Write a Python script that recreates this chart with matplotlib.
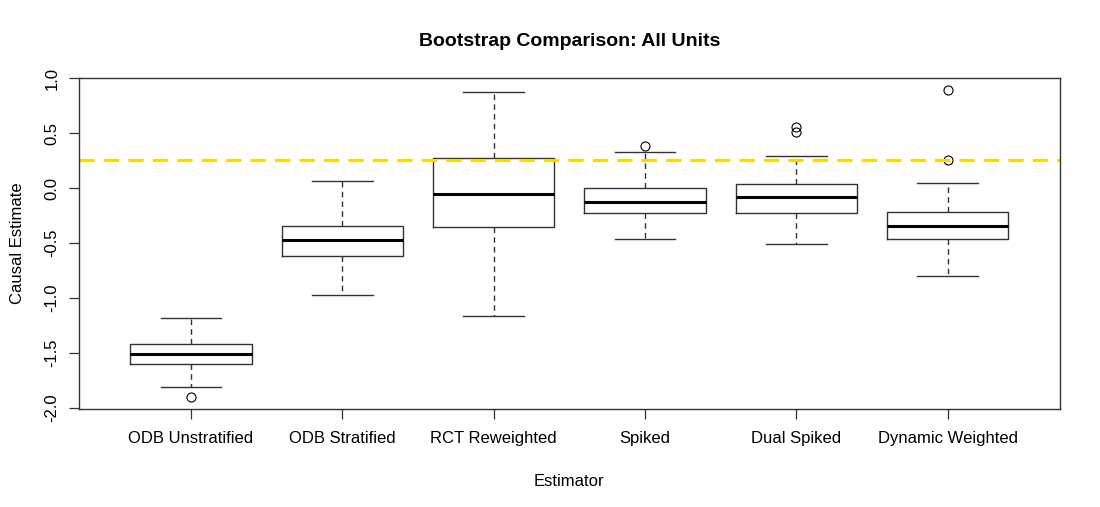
import matplotlib
matplotlib.use("Agg")
import matplotlib.pyplot as plt

plt.rcParams['font.family'] = ['Liberation Sans', 'DejaVu Sans']

# estimator names and box summaries
estimators = ["ODB Unstratified", "ODB Stratified", "RCT Reweighted",
              "Spiked", "Dual Spiked", "Dynamic Weighted"]
whisker_low = [-1.81, -0.975, -1.17, -0.465, -0.508, -0.80]
q1 = [-1.60, -0.62, -0.356, -0.228, -0.228, -0.465]
median = [-1.51, -0.474, -0.055, -0.13, -0.082, -0.346]
q3 = [-1.425, -0.346, 0.27, 0.0, 0.036, -0.222]
whisker_high = [-1.18, 0.064, 0.875, 0.328, 0.29, 0.048]
outliers = [[-1.90], [], [], [0.386], [0.56, 0.507], [0.89, 0.258]]
reference_value = 0.26

stats = []
for i, name in enumerate(estimators):
    stats.append({
        "label": name,
        "whislo": whisker_low[i],
        "q1": q1[i],
        "med": median[i],
        "q3": q3[i],
        "whishi": whisker_high[i],
        "fliers": outliers[i],
    })

fig = plt.figure(figsize=(11, 5.07), dpi=100)
ax = fig.add_axes([0.0718, 0.1939, 0.8916, 0.6517])

ax.bxp(stats, positions=range(1, 7), widths=0.8, patch_artist=False,
       boxprops=dict(color="#333333", linewidth=1.0),
       medianprops=dict(color="black", linewidth=2.2),
       whiskerprops=dict(color="#333333", linewidth=1.0, linestyle=(0, (4, 3))),
       capprops=dict(color="#333333", linewidth=1.0),
       capwidths=0.4,
       flierprops=dict(marker="o", markersize=6.5, markerfacecolor="none",
                       markeredgecolor="black", markeredgewidth=0.8))

ax.axhline(reference_value, color="#FFD700", linewidth=2.2, linestyle=(0, (5, 3)))

ax.set_xlim(0.26, 6.74)
ax.set_ylim(-2.01, 1.0)
ax.set_yticks([-2.0, -1.5, -1.0, -0.5, 0.0, 0.5, 1.0])
ax.set_yticklabels(["-2.0", "-1.5", "-1.0", "-0.5", "0.0", "0.5", "1.0"],
                   rotation=90, va="center")
ax.tick_params(axis="both", direction="out", length=7, width=0.9,
               labelsize=12, color="#333333")
ax.tick_params(axis="y", pad=7)
ax.tick_params(axis="x", pad=9)
for s in ax.spines.values():
    s.set_color("#333333")
    s.set_linewidth(1.0)

ax.set_xlabel("Estimator", fontsize=12, labelpad=20)
ax.set_ylabel("Causal Estimate", fontsize=12, labelpad=14)
ax.set_title("Bootstrap Comparison: All Units", fontsize=14, fontweight="bold", pad=23)

fig.savefig("out.png", dpi=100)
